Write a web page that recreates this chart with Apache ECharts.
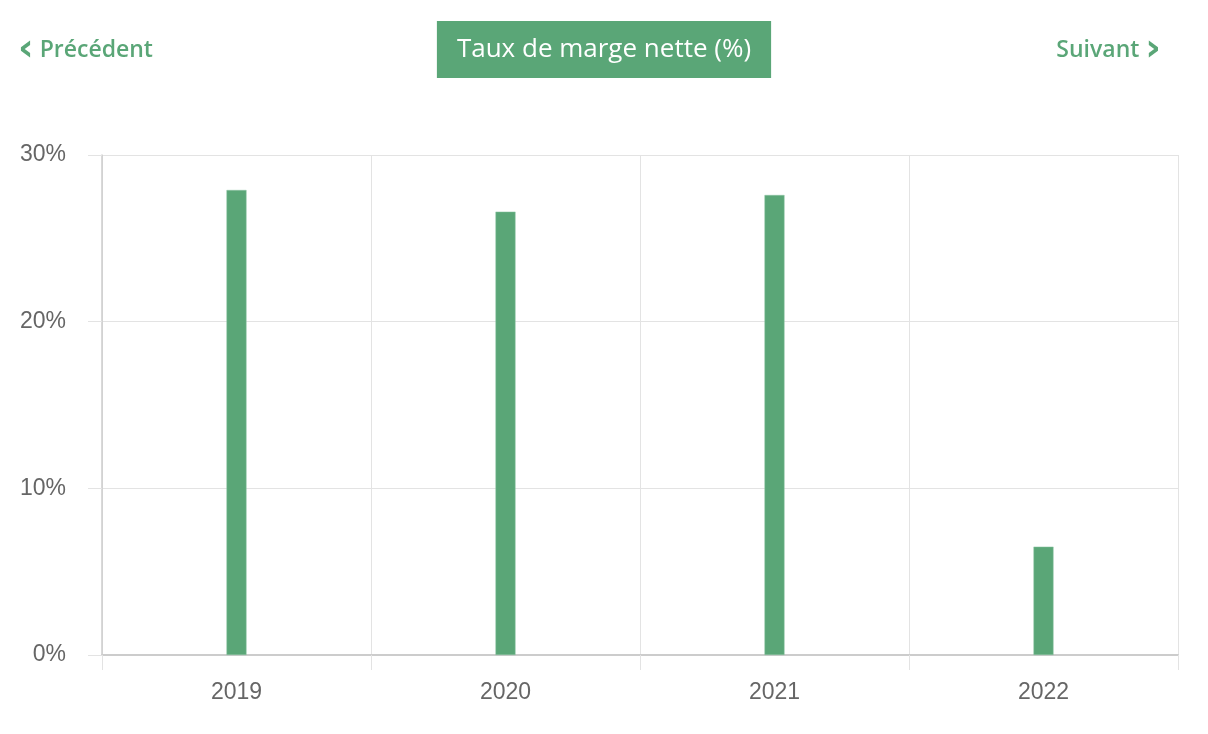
<!DOCTYPE html>
<html>
<head>
<meta charset="utf-8">
<script src="https://cdn.jsdelivr.net/npm/echarts@6/dist/echarts.min.js"></script>
<style>
  html, body { margin: 0; padding: 0; background: #fff; }
  #chart { width: 1208px; height: 734px; }
</style>
</head>
<body>
<div id="chart"></div>
<script>
var years = ['2019', '2020', '2021', '2022'];
var margeNette = [27.9, 26.6, 27.6, 6.5];
var yTicks = [0, 10, 20, 30];

var green = '#5aa677';
var grid_color = '#e3e3e3';
var axis_color = '#cccccc';
var label_color = '#666666';

var navStyle = {
	fontFamily: 'Open Sans',
	fontWeight: 600,
	fontSize: 23,
	color: green,
	rich: {
		c: {
			fontFamily: 'DejaVu Sans',
			fontWeight: 'bold',
			fontSize: 38,
			color: green
		}
	}
};

var chart = echarts.init(document.getElementById('chart'));
var options = {
	animation: false,
	title: [{
		text: 'Taux de marge nette (%)',
		left: 'center',
		top: 21,
		padding: [12, 20],
		backgroundColor: green,
		textStyle: {
			fontFamily: 'Open Sans',
			fontWeight: 'normal',
			fontSize: 26,
			lineHeight: 33,
			color: '#ffffff'
		}
	}, {
		text: '{c|‹} Précédent',
		left: 18,
		top: 31,
		padding: 0,
		textStyle: navStyle
	}, {
		text: 'Suivant {c|›}',
		right: 47,
		top: 31,
		padding: 0,
		textStyle: navStyle
	}],
	grid: {
		left: 102,
		right: 30,
		top: 155,
		bottom: 79,
		containLabel: false
	},
	xAxis: {
		type: 'category',
		data: years,
		axisLine: {
			lineStyle: { color: axis_color, width: 2 }
		},
		axisTick: {
			show: true,
			length: 15,
			lineStyle: { color: grid_color }
		},
		splitLine: {
			show: true,
			lineStyle: { color: grid_color }
		},
		axisLabel: {
			margin: 26,
			fontFamily: 'Liberation Sans',
			fontSize: 23,
			color: label_color
		}
	},
	yAxis: {
		type: 'value',
		min: yTicks[0],
		max: yTicks[yTicks.length - 1],
		interval: 10,
		axisLine: {
			show: true,
			lineStyle: { color: axis_color, width: 1.5 }
		},
		axisTick: {
			show: true,
			length: 14,
			lineStyle: { color: grid_color }
		},
		splitLine: {
			lineStyle: { color: grid_color }
		},
		axisLabel: {
			margin: 36,
			fontFamily: 'Liberation Sans',
			fontSize: 23,
			color: label_color,
			padding: [3, 0, 0, 0],
			formatter: function (value) { return value + '%'; }
		}
	},
	series: [{
		name: 'Taux de marge nette',
		type: 'bar',
		data: margeNette,
		barWidth: 20,
		itemStyle: {
			color: green,
			borderColor: '#8cc4a2',
			borderWidth: 0.5
		}
	}]
};
chart.setOption(options, true);
</script>
</body>
</html>
